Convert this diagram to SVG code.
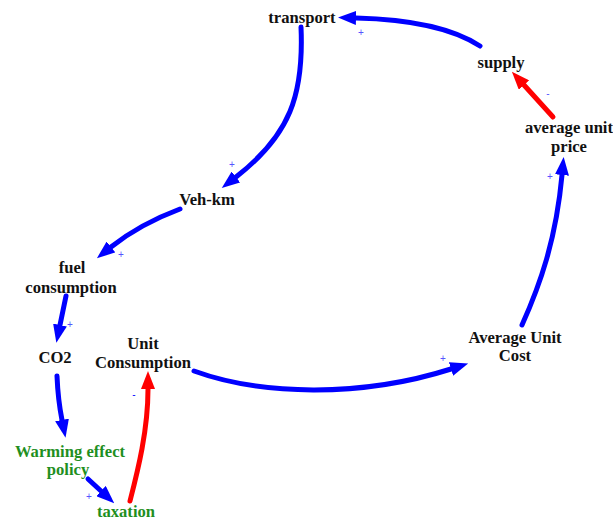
<svg xmlns="http://www.w3.org/2000/svg" width="613" height="521" viewBox="0 0 613 521">
  <style>
    .lbl { font-family: "Liberation Serif", "Times New Roman", serif; font-weight: bold; font-size: 16.6px; fill: #111; text-anchor: middle; }
    .grn { fill: #1f8f1f; }
    .link { fill: none; stroke-width: 5; stroke-linecap: round; }
    .pos { stroke: #0000ff; }
    .neg { stroke: #ff0000; }
    .sign { font-family: "Liberation Sans", Arial, sans-serif; font-size: 10px; fill: #5555ff; text-anchor: middle; }
  </style>
  <defs>
    <marker id="headBlue" markerUnits="userSpaceOnUse" viewBox="0 0 18 14" refX="0" refY="7" markerWidth="18" markerHeight="14" orient="auto">
      <path d="M0,0 L18,7 L0,14 z" fill="#0000ff"/>
    </marker>
    <marker id="headRed" markerUnits="userSpaceOnUse" viewBox="0 0 18 14" refX="0" refY="7" markerWidth="18" markerHeight="14" orient="auto">
      <path d="M0,0 L18,7 L0,14 z" fill="#ff0000"/>
    </marker>
  </defs>

  <!-- causal links -->
  <g id="connectors">
    <path class="link pos" d="M480,46 Q440,20 356,18" marker-end="url(#headBlue)"/>
    <path class="link pos" d="M301,27 C304,95 290,135 236,177" marker-end="url(#headBlue)"/>
    <path class="link pos" d="M180,209 Q140,224 111,247" marker-end="url(#headBlue)"/>
    <path class="link pos" d="M66,296 L60,325" marker-end="url(#headBlue)"/>
    <path class="link pos" d="M57,376 Q58,400 62,420" marker-end="url(#headBlue)"/>
    <path class="link pos" d="M88,479 L101,491" marker-end="url(#headBlue)"/>
    <path class="link neg" d="M130,501 C138,470 148,430 148,389" marker-end="url(#headRed)"/>
    <path class="link pos" d="M194,371 C260,395 360,398 451,369" marker-end="url(#headBlue)"/>
    <path class="link pos" d="M522,325 C540,285 556,240 562,175" marker-end="url(#headBlue)"/>
    <path class="link neg" d="M553,117 L524,85" marker-end="url(#headRed)"/>

    <!-- polarity signs -->
    <text class="sign" x="361" y="36">+</text>
    <text class="sign" x="548" y="97">-</text>
    <text class="sign" x="550" y="180">+</text>
    <text class="sign" x="232" y="168">+</text>
    <text class="sign" x="121" y="258">+</text>
    <text class="sign" x="70" y="328">+</text>
    <text class="sign" x="134" y="398" style="fill:#0000ff">-</text>
    <text class="sign" x="443" y="362">+</text>
    <text class="sign" x="89" y="500">+</text>
  </g>

  <!-- variables -->
  <g id="transport"><text class="lbl" x="302" y="23">transport</text></g>
  <g id="supply"><text class="lbl" x="501" y="68">supply</text></g>
  <g id="average-unit-price">
    <text class="lbl" x="569" y="133">average unit</text>
    <text class="lbl" x="569" y="152">price</text>
  </g>
  <g id="veh-km"><text class="lbl" x="207" y="205">Veh-km</text></g>
  <g id="fuel-consumption">
    <text class="lbl" x="72" y="273">fuel</text>
    <text class="lbl" x="71" y="293">consumption</text>
  </g>
  <g id="co2"><text class="lbl" x="55" y="363">CO2</text></g>
  <g id="unit-consumption">
    <text class="lbl" x="143" y="349">Unit</text>
    <text class="lbl" x="143" y="368">Consumption</text>
  </g>
  <g id="average-unit-cost">
    <text class="lbl" x="515" y="343">Average Unit</text>
    <text class="lbl" x="515" y="361">Cost</text>
  </g>
  <g id="warming-effect-policy">
    <text class="lbl grn" x="70" y="457">Warming effect</text>
    <text class="lbl grn" x="68" y="475">policy</text>
  </g>
  <g id="taxation"><text class="lbl grn" x="126" y="517">taxation</text></g>
</svg>
